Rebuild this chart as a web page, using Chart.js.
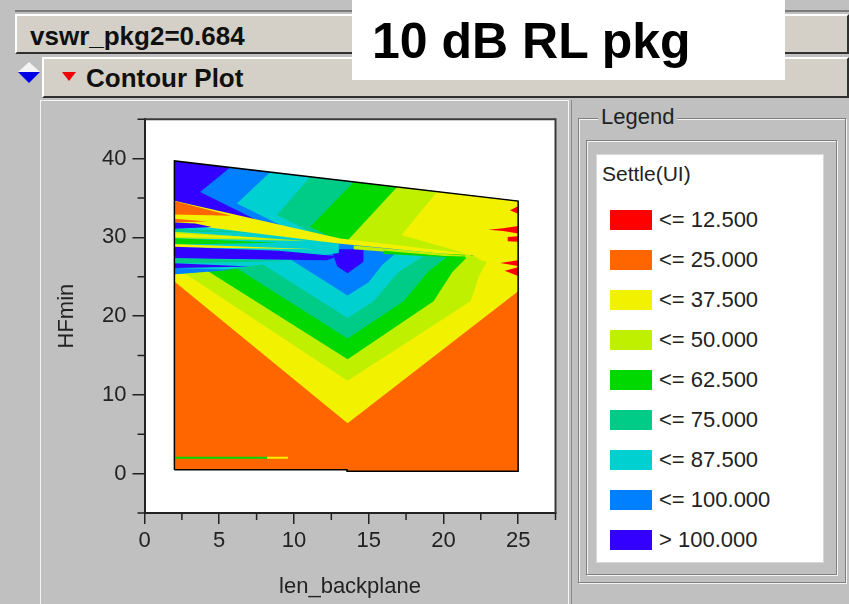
<!DOCTYPE html>
<html>
<head>
<meta charset="utf-8">
<title>Contour Plot</title>
<script src="https://cdn.jsdelivr.net/npm/chart.js@4.4.1/dist/chart.umd.min.js"></script>
<style>
  html, body { margin:0; padding:0; }
  body { width:849px; height:604px; position:relative; overflow:hidden; background:#c0c0c0;
         font-family:"Liberation Sans", Arial, sans-serif; color:#222; }
  .abs { position:absolute; }
  .bar { position:absolute; box-sizing:border-box; background:#d4d0c8;
         border-top:2px solid #ffffff; border-left:2px solid #ffffff;
         border-bottom:2px solid #303030; border-right:2px solid #303030; }
  .bartext { position:absolute; font-family:"Liberation Sans", Arial, sans-serif; font-weight:bold;
             font-size:26px; line-height:30px; color:#101010; white-space:nowrap; }
  #plotpanel { position:absolute; left:40px; top:100px; width:530px; height:504px; }
  .lgtext { position:absolute; font-size:22px; line-height:24px; color:#222; white-space:nowrap; }
  .swatch { position:absolute; width:42px; height:20px; }
</style>
</head>
<body>
  <!-- window chrome -->
  <div class="abs" style="left:15px;top:10px;width:834px;height:2px;background:#7a7a7a"></div>
  <div class="bar" style="left:15px;top:14px;width:834px;height:40px;">
    <span class="bartext" style="left:13px;top:5px;">vswr_pkg2=0.684</span>
  </div>
  <div class="abs" style="left:18px;top:62px;width:0;height:0;border-left:11px solid transparent;border-right:11px solid transparent;border-bottom:10px solid #f4f4f4;"></div>
  <div class="abs" style="left:18px;top:72px;width:0;height:0;border-left:11px solid transparent;border-right:11px solid transparent;border-top:11px solid #0000e8;"></div>
  <div class="bar" style="left:42px;top:57px;width:807px;height:41px;">
    <div class="abs" style="left:18px;top:13px;width:0;height:0;border-left:7px solid transparent;border-right:7px solid transparent;border-top:9px solid #f00000;"></div>
    <span class="bartext" style="left:42px;top:4px;">Contour Plot</span>
  </div>
  <div class="abs" style="left:352px;top:0;width:433px;height:80px;background:#ffffff;">
    <span class="abs" style="left:20px;top:16px;font-family:'Liberation Sans',Arial,sans-serif;font-weight:bold;font-size:50px;line-height:50px;color:#000;white-space:nowrap;">10 dB RL pkg</span>
  </div>

  <!-- plot panel -->
  <div id="plotpanel"><canvas id="chart"></canvas></div>
  <div class="abs" style="left:40px;top:100px;width:1px;height:504px;background:#f4f4f4"></div>
  <div class="abs" style="left:40px;top:100px;width:529px;height:1px;background:#f4f4f4"></div>
  <div class="abs" style="left:568px;top:100px;width:1px;height:504px;background:#f4f4f4"></div>
  <div class="abs" style="left:571px;top:100px;width:1px;height:504px;background:#8a8a8a"></div>

  <!-- legend group -->
  <div class="abs" style="left:578px;top:118px;width:268px;height:465px;border:1px solid #808080;box-shadow:1px 1px 0 #f4f4f4, inset 1px 1px 0 #f4f4f4;box-sizing:border-box;"></div>
  <span class="lgtext" style="left:598px;top:105px;background:#c0c0c0;padding:0 3px;">Legend</span>
  <div class="abs" style="left:586px;top:140px;width:251px;height:435px;border:1px solid #808080;box-shadow:1px 1px 0 #f4f4f4, inset 1px 1px 0 #f4f4f4;box-sizing:border-box;"></div>
  <div id="legendbox" class="abs" style="left:596px;top:154px;width:228px;height:409px;background:#ffffff;border:1px solid #d8d8d8;box-sizing:border-box;"></div>

<script>
// ---------------- data ----------------
const levelLabels = ['<= 12.500', '<= 25.000', '<= 37.500', '<= 50.000', '<= 62.500',
                     '<= 75.000', '<= 87.500', '<= 100.000', '> 100.000'];
const levelColors = ['#ff0000', '#ff6600', '#f2f200', '#bef000', '#00d800',
                     '#00cc88', '#00d0d0', '#0080ff', '#3300ff'];
const legendTitle = 'Settle(UI)';
const xTickValues = [0, 5, 10, 15, 20, 25];
const xMinorValues = [2.5, 7.5, 12.5, 17.5, 22.5, 27.5];
const yTickValues = [0, 10, 20, 30, 40];
const yMinorValues = [-5, 5, 15, 25, 35, 45];
const xTitle = 'len_backplane';
const yTitle = 'HFmin';

// contour regions, vertices in (len_backplane, HFmin)
const domainOutline = [[2,0.5],[13.55,0.5],[13.55,0.3],[25,0.3],[25,34.6],[2,39.7]];

// lower V-shaped bands (each = region above its lower boundary)
const vYellow      = [[2,24.4],[13.59,6.39],[25,23.14],[25,34.6],[2,39.7]];
const vYellowGreen = [[2,26.3],[13.59,11.78],[21.82,21.9],[22.4,25.2],[23.0,27.2],[22,33],[2,36]];
const vGreen       = [[2,28.4],[13.59,14.52],[19.34,21.9],[20.6,25.6],[21.5,27.3],[20.5,33],[2,36]];
const vTeal        = [[2,31.1],[13.59,17.17],[17.33,21.9],[19.0,25.7],[20.3,27.6],[19.3,33],[2,36]];
const vCyan        = [[2,33.7],[13.59,19.77],[15.32,21.9],[17.0,25.6],[18.8,27.8],[17.8,33],[2,36]];
const vBlue        = [[2,36.5],[13.59,22.6],[15.0,24.3],[15.9,26.5],[17.0,28.3],[16,33]];
const vDarkBlue    = [[12.9,26.3],[13.59,25.45],[14.65,26.9],[14.65,28.5],[12.5,28.5]];

// streak fan between the two families of bands
const fanBase            = [[2,25.3],[2,32.0],[11,29.9],[13,29.2],[13,28.0],[10,27.2],[6,26.0]];
const streakYellowGreenR = [[14,28.95],[19.8,27.95],[22.5,27.55],[19.8,27.62],[14,28.5]];
const streakGreenR       = [[16,28.3],[21.8,27.35],[16,27.9]];
const streakYellowGreen1 = [[2,29.9],[2,30.7],[10.9,29.55]];
const streakYellow1      = [[2,30.05],[2,30.5],[8.5,29.85]];
const streakGreen1       = [[2,29.1],[2,29.9],[9.0,29.3]];
const streakYellow2      = [[2,28.75],[2,29.15],[11.5,28.5]];
const streakTeal1        = [[2,30.7],[2,31.1],[7.5,30.6]];
const streakDarkBlueLong = [[2,27.35],[2,28.8],[9,28.3],[12.9,27.6],[12.2,27.1]];
const streakTeal2        = [[2,26.7],[2,27.35],[10,27.0]];
const streakDarkBlueLow  = [[2,26.1],[2,26.7],[7.1,26.3]];
const streakBlueLow      = [[2,25.3],[2,26.1],[6.0,25.9]];
const streakYellowTop    = [[2,31.8],[2,34.65],[13.1,29.85],[19.8,28.35],[22.5,27.7],[19.8,27.95],[13.1,29.2]];
const streakOrangeTop    = [[2,32.9],[2,34.6],[5.8,32.75]];
const streakOrangeThin   = [[2,31.9],[2,32.35],[4.2,32.0]];
const streakDarkBlueTop  = [[2,31.1],[2,31.9],[3.4,31.75],[4.5,31.3]];

// upper chevron bands (pointing left)
const upperBase       = [[2,39.7],[25,34.6],[25,27.2],[22.5,27.6],[19.8,28.2],[13.1,29.7],[2,34.5]];
const chevBlue        = [[5.73,38.87],[3.72,35.77],[7.66,32.05],[13.1,29.7],[19.8,28.2],[22.5,27.6],[25,27.2],[25,34.6]];
const chevCyan        = [[8.41,38.28],[6.18,34.29],[9.32,31.34],[13.1,29.7],[19.8,28.2],[22.5,27.6],[25,27.2],[25,34.6]];
const chevTeal        = [[11.09,37.68],[8.86,32.83],[11.39,30.44],[13.1,29.7],[19.8,28.2],[22.5,27.6],[25,27.2],[25,34.6]];
const chevGreen       = [[14.0,37.04],[11.09,31.35],[12.62,29.9],[13.1,29.7],[19.8,28.2],[22.5,27.6],[25,27.2],[25,34.6]];
const chevYellowGreen = [[16.9,36.4],[13.59,29.6],[19.8,28.2],[22.5,27.6],[25,27.2],[25,34.6]];
const chevYellow      = [[19.58,35.8],[17.2,30.3],[22.0,27.71],[22.6,27.0],[25,26.4],[25,34.6]];

// red spikes on the right edge
const spike1 = [[25,33.95],[24.45,33.45],[25,33.0]];
const spike2 = [[25,31.45],[24.0,31.15],[23.0,30.95],[24.0,30.8],[25,30.5]];
const spike3 = [[25,30.15],[24.3,30.05],[24.3,29.5],[25,29.45]];
const spike4 = [[25,27.1],[23.8,26.75],[25,26.35]];
const spike5 = [[25,26.2],[24.1,25.75],[25,25.1]];

// thin trace near the bottom
const lowLineGreen  = [[2,2.0],[8.2,2.0]];
const lowLineYellow = [[8.2,2.0],[9.6,2.0]];

// paint order: [level index, region]
const fillLayers = [
  [1, domainOutline],
  [2, vYellow], [3, vYellowGreen], [4, vGreen], [5, vTeal], [6, vCyan], [7, vBlue], [8, vDarkBlue],
  [6, fanBase], [3, streakYellowGreenR], [4, streakGreenR],
  [3, streakYellowGreen1], [2, streakYellow1], [4, streakGreen1], [2, streakYellow2],
  [5, streakTeal1], [8, streakDarkBlueLong], [5, streakTeal2], [8, streakDarkBlueLow],
  [7, streakBlueLow],
  [8, upperBase], [7, chevBlue], [6, chevCyan], [5, chevTeal], [4, chevGreen],
  [3, chevYellowGreen], [2, chevYellow],
  [2, streakYellowTop], [1, streakOrangeTop], [1, streakOrangeThin], [8, streakDarkBlueTop],
  [0, spike1], [0, spike2], [0, spike3], [0, spike4], [0, spike5]
];
const lineLayers = [[4, lowLineGreen], [2, lowLineYellow]];

// ---------------- HTML legend built from the level arrays ----------------
const lb = document.getElementById('legendbox');
const lt = document.createElement('span');
lt.className = 'lgtext'; lt.textContent = legendTitle;
lt.style.left = '5px'; lt.style.top = '7px'; lt.style.fontSize = '21px';
lb.appendChild(lt);
levelLabels.forEach((lab, i) => {
  const sw = document.createElement('div');
  sw.className = 'swatch';
  sw.style.background = levelColors[i];
  sw.style.left = '13px'; sw.style.top = (55 + 40 * i) + 'px';
  lb.appendChild(sw);
  const tx = document.createElement('span');
  tx.className = 'lgtext'; tx.textContent = lab;
  tx.style.left = '62px'; tx.style.top = (53 + 40 * i) + 'px';
  lb.appendChild(tx);
});

// ---------------- chart ----------------
const toXY = pts => pts.map(([x, y]) => ({x, y}));
const datasets = [];
const total = fillLayers.length + lineLayers.length + 1;
let k = 0;
fillLayers.forEach(([lvl, pts]) => {
  datasets.push({
    label: levelLabels[lvl], data: toXY(pts), showLine: true, fill: 'shape',
    backgroundColor: levelColors[lvl], borderColor: levelColors[lvl], borderWidth: 0,
    pointRadius: 0, pointHoverRadius: 0, tension: 0, order: total - (k++)
  });
});
lineLayers.forEach(([lvl, pts]) => {
  datasets.push({
    label: levelLabels[lvl], data: toXY(pts), showLine: true, fill: false,
    borderColor: levelColors[lvl], borderWidth: 2, pointRadius: 0, tension: 0,
    order: total - (k++)
  });
});
datasets.push({
  label: 'outline', data: toXY(domainOutline.concat([domainOutline[0]])), showLine: true,
  fill: false, borderColor: '#000000', borderWidth: 1.5, pointRadius: 0, tension: 0,
  order: total - (k++)
});

const frameAndMinorTicks = {
  id: 'frameAndMinorTicks',
  beforeDraw(chart) {
    const {ctx, chartArea: a} = chart;
    ctx.save();
    ctx.fillStyle = '#ffffff';
    ctx.fillRect(a.left, a.top, a.right - a.left, a.bottom - a.top);
    ctx.restore();
  },
  afterDraw(chart) {
    const {ctx, chartArea: a, scales: {x, y}} = chart;
    ctx.save();
    ctx.strokeStyle = '#222222'; ctx.lineWidth = 1.5;
    ctx.beginPath();
    xMinorValues.forEach(v => { const p = x.getPixelForValue(v); ctx.moveTo(p, a.bottom); ctx.lineTo(p, a.bottom + 7); });
    yMinorValues.forEach(v => { const p = y.getPixelForValue(v); ctx.moveTo(a.left - 7, p); ctx.lineTo(a.left, p); });
    ctx.stroke();
    ctx.strokeStyle = '#3a3a3a'; ctx.lineWidth = 2;
    ctx.beginPath();
    ctx.moveTo(a.left, a.top); ctx.lineTo(a.right, a.top); ctx.lineTo(a.right, a.bottom);
    ctx.stroke();
    ctx.restore();
  }
};

const axisFont = {family: 'Liberation Sans', size: 22};
new Chart(document.getElementById('chart'), {
  type: 'scatter',
  data: {datasets},
  options: {
    responsive: true, maintainAspectRatio: false, animation: false, events: [],
    layout: {padding: {left: 0, top: 17, right: 14.5, bottom: 0}},
    plugins: {legend: {display: false}, tooltip: {enabled: false}},
    scales: {
      x: {
        type: 'linear', min: 0, max: 27.5,
        afterBuildTicks: s => { s.ticks = xTickValues.map(v => ({value: v})); },
        afterFit: s => { s.height = 91; },
        grid: {drawOnChartArea: false, drawTicks: true, tickLength: 11, color: '#222222', lineWidth: 1.5},
        border: {display: true, color: '#222222', width: 2},
        ticks: {color: '#222222', font: axisFont, padding: 4, maxRotation: 0, autoSkip: false},
        title: {display: true, text: xTitle, color: '#222222', font: axisFont, padding: {top: 0, bottom: 3.6}}
      },
      y: {
        type: 'linear', min: -5, max: 45,
        afterBuildTicks: s => { s.ticks = yTickValues.map(v => ({value: v})); },
        afterFit: s => { s.width = 104.5; },
        grid: {drawOnChartArea: false, drawTicks: true, tickLength: 12, color: '#222222', lineWidth: 1.5},
        border: {display: true, color: '#222222', width: 2},
        ticks: {color: '#222222', font: axisFont, padding: 6, autoSkip: false},
        title: {display: true, text: yTitle, color: '#222222', font: axisFont, padding: {top: 13.3, bottom: 0}}
      }
    }
  },
  plugins: [frameAndMinorTicks]
});
</script>
</body>
</html>
